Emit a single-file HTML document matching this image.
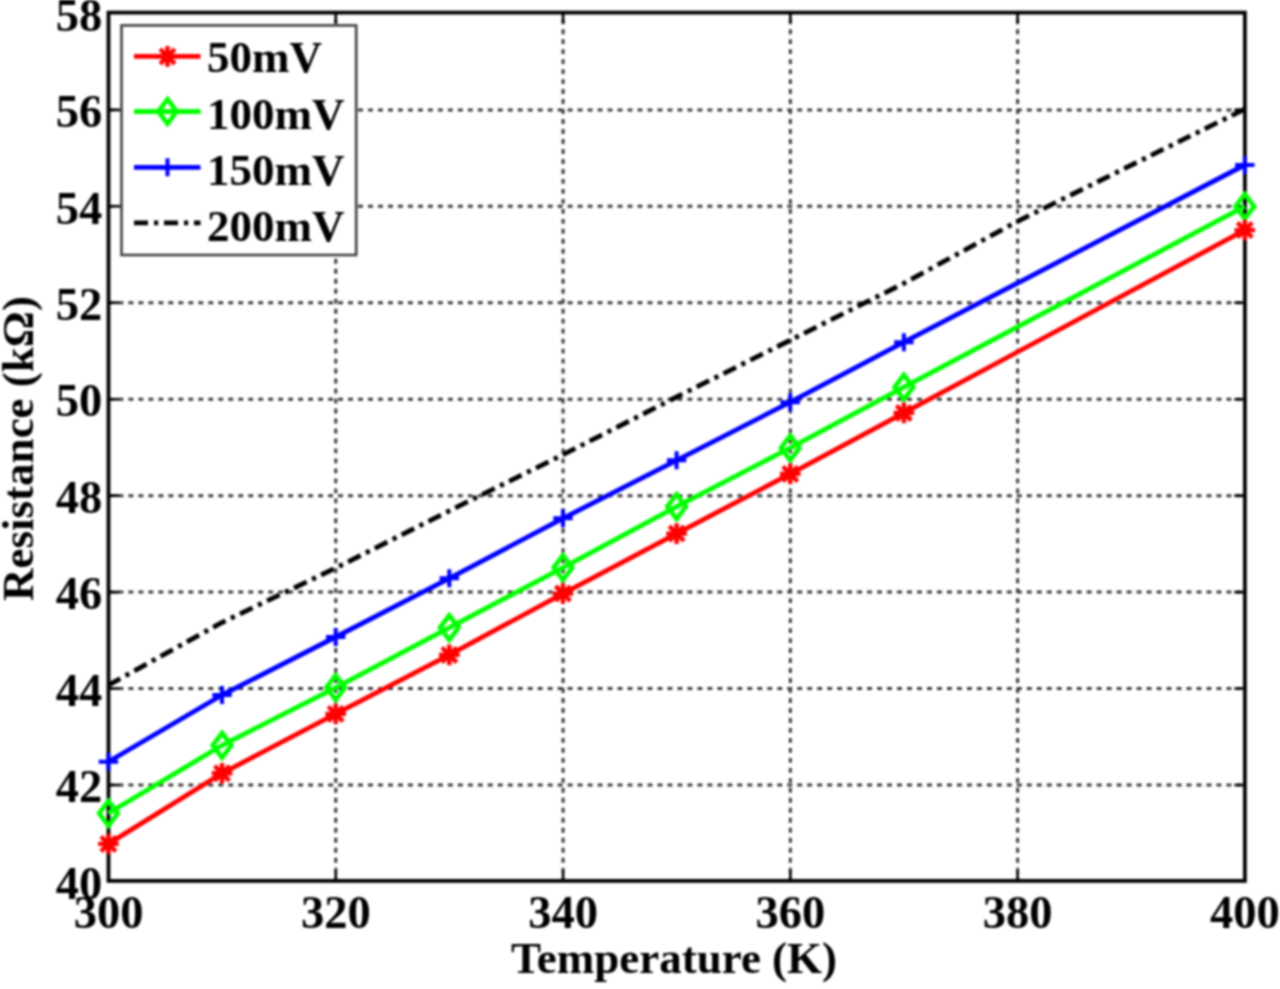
<!DOCTYPE html>
<html><head><meta charset="utf-8"><style>
html,body{margin:0;padding:0;background:#fff;width:1280px;height:989px;overflow:hidden}
svg{display:block;filter:blur(0.9px)}
.t{font-family:"Liberation Serif", serif;font-weight:bold;font-size:45px;fill:#000}
.k{font-family:"Liberation Serif", serif;font-weight:bold;font-size:46.5px;fill:#000}
</style></head><body>
<svg width="1280" height="989" viewBox="0 0 1280 989">
<line x1="335.78" y1="880.90" x2="335.78" y2="12.60" stroke="#3c3c3c" stroke-width="3.0" stroke-dasharray="4.9 5.082" stroke-dashoffset="1.7"/>
<line x1="563.06" y1="880.90" x2="563.06" y2="12.60" stroke="#3c3c3c" stroke-width="3.0" stroke-dasharray="4.9 5.082" stroke-dashoffset="1.7"/>
<line x1="790.34" y1="880.90" x2="790.34" y2="12.60" stroke="#3c3c3c" stroke-width="3.0" stroke-dasharray="4.9 5.082" stroke-dashoffset="1.7"/>
<line x1="1017.62" y1="880.90" x2="1017.62" y2="12.60" stroke="#3c3c3c" stroke-width="3.0" stroke-dasharray="4.9 5.082" stroke-dashoffset="1.7"/>
<line x1="108.50" y1="784.96" x2="1244.90" y2="784.96" stroke="#3c3c3c" stroke-width="3.0" stroke-dasharray="4.9 5.082"/>
<line x1="108.50" y1="688.52" x2="1244.90" y2="688.52" stroke="#3c3c3c" stroke-width="3.0" stroke-dasharray="4.9 5.082"/>
<line x1="108.50" y1="592.08" x2="1244.90" y2="592.08" stroke="#3c3c3c" stroke-width="3.0" stroke-dasharray="4.9 5.082"/>
<line x1="108.50" y1="495.64" x2="1244.90" y2="495.64" stroke="#3c3c3c" stroke-width="3.0" stroke-dasharray="4.9 5.082"/>
<line x1="108.50" y1="399.20" x2="1244.90" y2="399.20" stroke="#3c3c3c" stroke-width="3.0" stroke-dasharray="4.9 5.082"/>
<line x1="108.50" y1="302.76" x2="1244.90" y2="302.76" stroke="#3c3c3c" stroke-width="3.0" stroke-dasharray="4.9 5.082"/>
<line x1="108.50" y1="206.32" x2="1244.90" y2="206.32" stroke="#3c3c3c" stroke-width="3.0" stroke-dasharray="4.9 5.082"/>
<line x1="108.50" y1="109.88" x2="1244.90" y2="109.88" stroke="#3c3c3c" stroke-width="3.0" stroke-dasharray="4.9 5.082"/>
<rect x="108.50" y="12.60" width="1136.40" height="868.30" stroke="#000" stroke-width="3.8" fill="none"/>
<path d="M108.50 784.96h10.5M1244.90 784.96h-10.5M108.50 688.52h10.5M1244.90 688.52h-10.5M108.50 592.08h10.5M1244.90 592.08h-10.5M108.50 495.64h10.5M1244.90 495.64h-10.5M108.50 399.20h10.5M1244.90 399.20h-10.5M108.50 302.76h10.5M1244.90 302.76h-10.5M108.50 206.32h10.5M1244.90 206.32h-10.5M108.50 109.88h10.5M1244.90 109.88h-10.5M335.78 880.90v-10.5M335.78 12.60v10.5M563.06 880.90v-10.5M563.06 12.60v10.5M790.34 880.90v-10.5M790.34 12.60v10.5M1017.62 880.90v-10.5M1017.62 12.60v10.5" stroke="#000" stroke-width="2.6" fill="none"/>
<polyline points="108.40,685.10 222.04,622.50 335.68,568.00 449.32,510.80 562.96,454.70 676.60,397.00 790.24,340.20 903.88,283.30 1017.52,221.30 1244.80,109.10" stroke="#000" stroke-width="4.8" fill="none" stroke-dasharray="14 6 4.2 5.8" stroke-dashoffset="0.4"/>
<polyline points="108.40,761.70 222.04,695.00 335.68,637.00 449.32,578.30 562.96,518.30 676.60,460.30 790.24,402.20 903.88,342.20 1244.80,165.00" stroke="#00f" stroke-width="4.8" fill="none" stroke-linejoin="round"/>
<path d="M98.70 761.70H118.10M108.40 752.70V770.70" stroke="#00f" stroke-width="4" fill="none"/>
<path d="M212.34 695.00H231.74M222.04 686.00V704.00" stroke="#00f" stroke-width="4" fill="none"/>
<path d="M325.98 637.00H345.38M335.68 628.00V646.00" stroke="#00f" stroke-width="4" fill="none"/>
<path d="M439.62 578.30H459.02M449.32 569.30V587.30" stroke="#00f" stroke-width="4" fill="none"/>
<path d="M553.26 518.30H572.66M562.96 509.30V527.30" stroke="#00f" stroke-width="4" fill="none"/>
<path d="M666.90 460.30H686.30M676.60 451.30V469.30" stroke="#00f" stroke-width="4" fill="none"/>
<path d="M780.54 402.20H799.94M790.24 393.20V411.20" stroke="#00f" stroke-width="4" fill="none"/>
<path d="M894.18 342.20H913.58M903.88 333.20V351.20" stroke="#00f" stroke-width="4" fill="none"/>
<path d="M1235.10 165.00H1254.50M1244.80 156.00V174.00" stroke="#00f" stroke-width="4" fill="none"/>
<polyline points="108.40,813.30 222.04,745.30 335.68,687.60 449.32,627.60 562.96,567.60 676.60,506.60 790.24,447.90 903.88,387.20 1244.80,206.40" stroke="#0f0" stroke-width="4.8" fill="none" stroke-linejoin="round"/>
<path d="M108.40 801.00L117.70 813.30L108.40 825.60L99.10 813.30Z" stroke="#0f0" stroke-width="4.6" fill="none"/>
<path d="M222.04 733.00L231.34 745.30L222.04 757.60L212.74 745.30Z" stroke="#0f0" stroke-width="4.6" fill="none"/>
<path d="M335.68 675.30L344.98 687.60L335.68 699.90L326.38 687.60Z" stroke="#0f0" stroke-width="4.6" fill="none"/>
<path d="M449.32 615.30L458.62 627.60L449.32 639.90L440.02 627.60Z" stroke="#0f0" stroke-width="4.6" fill="none"/>
<path d="M562.96 555.30L572.26 567.60L562.96 579.90L553.66 567.60Z" stroke="#0f0" stroke-width="4.6" fill="none"/>
<path d="M676.60 494.30L685.90 506.60L676.60 518.90L667.30 506.60Z" stroke="#0f0" stroke-width="4.6" fill="none"/>
<path d="M790.24 435.60L799.54 447.90L790.24 460.20L780.94 447.90Z" stroke="#0f0" stroke-width="4.6" fill="none"/>
<path d="M903.88 374.90L913.18 387.20L903.88 399.50L894.58 387.20Z" stroke="#0f0" stroke-width="4.6" fill="none"/>
<path d="M1244.80 194.10L1254.10 206.40L1244.80 218.70L1235.50 206.40Z" stroke="#0f0" stroke-width="4.6" fill="none"/>
<polyline points="108.40,843.90 222.04,773.30 335.68,713.90 449.32,654.90 562.96,593.60 676.60,533.60 790.24,473.90 903.88,412.90 1244.80,230.10" stroke="#f00" stroke-width="4.8" fill="none" stroke-linejoin="round"/>
<path d="M98.10 843.90H118.70M108.40 833.60V854.20M100.98 836.48L115.82 851.32M100.98 851.32L115.82 836.48" stroke="#f00" stroke-width="4.4" fill="none"/>
<path d="M211.74 773.30H232.34M222.04 763.00V783.60M214.62 765.88L229.46 780.72M214.62 780.72L229.46 765.88" stroke="#f00" stroke-width="4.4" fill="none"/>
<path d="M325.38 713.90H345.98M335.68 703.60V724.20M328.26 706.48L343.10 721.32M328.26 721.32L343.10 706.48" stroke="#f00" stroke-width="4.4" fill="none"/>
<path d="M439.02 654.90H459.62M449.32 644.60V665.20M441.90 647.48L456.74 662.32M441.90 662.32L456.74 647.48" stroke="#f00" stroke-width="4.4" fill="none"/>
<path d="M552.66 593.60H573.26M562.96 583.30V603.90M555.54 586.18L570.38 601.02M555.54 601.02L570.38 586.18" stroke="#f00" stroke-width="4.4" fill="none"/>
<path d="M666.30 533.60H686.90M676.60 523.30V543.90M669.18 526.18L684.02 541.02M669.18 541.02L684.02 526.18" stroke="#f00" stroke-width="4.4" fill="none"/>
<path d="M779.94 473.90H800.54M790.24 463.60V484.20M782.82 466.48L797.66 481.32M782.82 481.32L797.66 466.48" stroke="#f00" stroke-width="4.4" fill="none"/>
<path d="M893.58 412.90H914.18M903.88 402.60V423.20M896.46 405.48L911.30 420.32M896.46 420.32L911.30 405.48" stroke="#f00" stroke-width="4.4" fill="none"/>
<path d="M1234.50 230.10H1255.10M1244.80 219.80V240.40M1237.38 222.68L1252.22 237.52M1237.38 237.52L1252.22 222.68" stroke="#f00" stroke-width="4.4" fill="none"/>
<rect x="121.5" y="25.4" width="234.7" height="229.6" fill="#fff" stroke="#404040" stroke-width="2.6"/>
<line x1="134" y1="56.4" x2="200.5" y2="56.4" stroke="#f00" stroke-width="4.8"/><path d="M157.20 56.40H177.80M167.50 46.10V66.70M160.08 48.98L174.92 63.82M160.08 63.82L174.92 48.98" stroke="#f00" stroke-width="4.4" fill="none"/>
<line x1="134" y1="111.5" x2="200.5" y2="111.5" stroke="#0f0" stroke-width="4.8"/><path d="M167.50 99.20L176.80 111.50L167.50 123.80L158.20 111.50Z" stroke="#0f0" stroke-width="4.6" fill="none"/>
<line x1="134" y1="167.3" x2="200.5" y2="167.3" stroke="#00f" stroke-width="4.8"/><path d="M157.80 167.30H177.20M167.50 158.30V176.30" stroke="#00f" stroke-width="4" fill="none"/>
<line x1="134" y1="222.9" x2="200.5" y2="222.9" stroke="#000" stroke-width="4.8" stroke-dasharray="14 6 4.2 5.8"/>
<text x="207" y="71.8" class="t">50mV</text>
<text x="207" y="128.5" class="t">100mV</text>
<text x="207" y="184.8" class="t">150mV</text>
<text x="207" y="241.1" class="t">200mV</text>
<text x="102.2" y="898.60" class="k" text-anchor="end">40</text>
<text x="102.2" y="802.16" class="k" text-anchor="end">42</text>
<text x="102.2" y="705.72" class="k" text-anchor="end">44</text>
<text x="102.2" y="609.28" class="k" text-anchor="end">46</text>
<text x="102.2" y="512.84" class="k" text-anchor="end">48</text>
<text x="102.2" y="416.40" class="k" text-anchor="end">50</text>
<text x="102.2" y="319.96" class="k" text-anchor="end">52</text>
<text x="102.2" y="223.52" class="k" text-anchor="end">54</text>
<text x="102.2" y="127.08" class="k" text-anchor="end">56</text>
<text x="102.2" y="30.64" class="k" text-anchor="end">58</text>
<text x="108.50" y="928.3" class="k" text-anchor="middle">300</text>
<text x="335.78" y="928.3" class="k" text-anchor="middle">320</text>
<text x="563.06" y="928.3" class="k" text-anchor="middle">340</text>
<text x="790.34" y="928.3" class="k" text-anchor="middle">360</text>
<text x="1017.62" y="928.3" class="k" text-anchor="middle">380</text>
<text x="1244.90" y="928.3" class="k" text-anchor="middle">400</text>
<text x="674" y="972.5" class="t" text-anchor="middle">Temperature (K)</text>
<text transform="translate(33.4 448.5) rotate(-90)" x="0" y="0" class="t" text-anchor="middle">Resistance (k&#937;)</text>
</svg>
</body></html>
